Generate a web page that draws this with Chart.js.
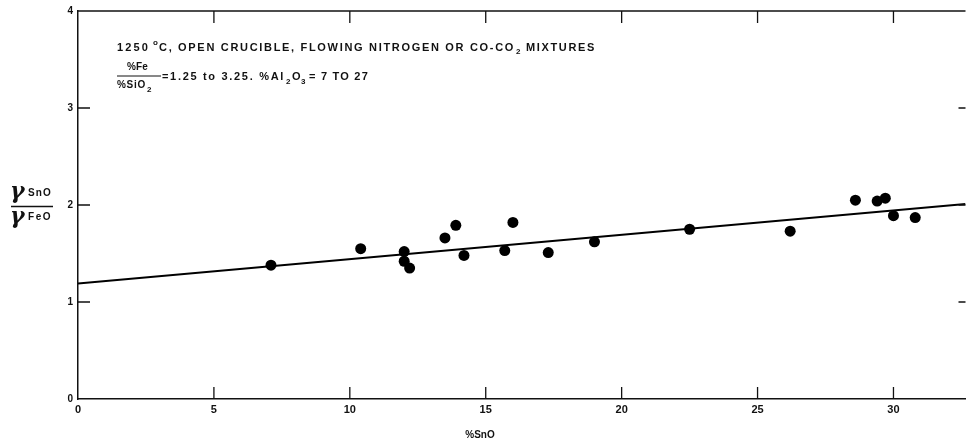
<!DOCTYPE html>
<html>
<head>
<meta charset="utf-8">
<script src="https://cdn.jsdelivr.net/npm/chart.js@4.4.1/dist/chart.umd.min.js"></script>
<style>
  html, body { margin: 0; padding: 0; background: #fff; overflow: hidden; }
</style>
</head>
<body>
<canvas id="sno-chart" width="967" height="443"></canvas>
<script>
// data
var snoPct = [7.1, 10.4, 12.0, 12.0, 12.2, 13.5, 13.9, 14.2, 15.7, 16.0, 17.3, 19.0, 22.5, 26.2, 28.6, 29.4, 29.7, 30.0, 30.8];
var gammaRatio = [1.38, 1.55, 1.52, 1.42, 1.35, 1.66, 1.79, 1.48, 1.53, 1.82, 1.51, 1.62, 1.75, 1.73, 2.05, 2.04, 2.07, 1.89, 1.87];
var fitX = [0, 32.65];
var fitY = [1.19, 2.01];
var xTicks = [0, 5, 10, 15, 20, 25, 30];
var yTicks = [0, 1, 2, 3, 4];

var ink = '#111';
var sans = '"Liberation Sans", Arial, sans-serif';

function toPts(xs, ys) {
  return xs.map(function (x, i) { return { x: x, y: ys[i] }; });
}

// text stretched to a given overall width (the original lettering is spaced out)
function spacedText(ctx, txt, x, y, width) {
  ctx.letterSpacing = '0px';
  var w = ctx.measureText(txt).width;
  var sp = (width - w) / txt.length;
  ctx.letterSpacing = sp + 'px';
  ctx.fillText(txt, x, y);
  var out = x + ctx.measureText(txt).width;
  ctx.letterSpacing = '0px';
  return out;
}

// draw a glyph with its ink box top-left at (left, top)
function glyphAt(ctx, ch, left, top) {
  var m = ctx.measureText(ch);
  ctx.fillText(ch, left + m.actualBoundingBoxLeft, top + m.actualBoundingBoxAscent);
}

var frameAndText = {
  id: 'frameAndText',
  afterDraw: function (chart) {
    var ctx = chart.ctx;
    var a = chart.chartArea;
    var xs = chart.scales.x, ys = chart.scales.y;
    ctx.save();
    ctx.strokeStyle = ink;
    ctx.lineWidth = 1.5;
    // top frame line
    ctx.beginPath();
    ctx.moveTo(a.left, a.top);
    ctx.lineTo(a.right, a.top);
    ctx.stroke();
    // inward ticks
    ctx.lineWidth = 1.3;
    xTicks.forEach(function (v) {
      if (v === 0) return;
      var px = xs.getPixelForValue(v);
      ctx.beginPath();
      ctx.moveTo(px, a.bottom); ctx.lineTo(px, a.bottom - 12);
      ctx.moveTo(px, a.top); ctx.lineTo(px, a.top + 12);
      ctx.stroke();
    });
    yTicks.forEach(function (v) {
      if (v === 0 || v === 4) return;
      var py = ys.getPixelForValue(v);
      ctx.beginPath();
      ctx.moveTo(a.left, py); ctx.lineTo(a.left + 12, py);
      ctx.moveTo(a.right, py); ctx.lineTo(a.right - 7, py);
      ctx.stroke();
    });

    ctx.fillStyle = ink;
    ctx.textBaseline = 'alphabetic';
    ctx.textAlign = 'left';
    var big = 'bold 11px ' + sans, mid = 'bold 10px ' + sans, sub = 'bold 8px ' + sans;
    // condition note
    ctx.font = big;
    var x = spacedText(ctx, '1250 ', 117, 51, 38);
    ctx.font = sub;
    ctx.fillText('o', x - 2, 45);
    ctx.font = big;
    x = spacedText(ctx, 'C, OPEN CRUCIBLE, FLOWING NITROGEN OR CO-CO', x + 4, 51, 356);
    ctx.font = sub;
    ctx.fillText('2', x + 1, 54);
    ctx.font = big;
    spacedText(ctx, 'MIXTURES', x + 11, 51, 70);

    // %Fe / %SiO2 fraction
    ctx.font = mid;
    spacedText(ctx, '%Fe', 127, 70, 21);
    ctx.lineWidth = 1;
    ctx.beginPath(); ctx.moveTo(117, 76); ctx.lineTo(161, 76); ctx.stroke();
    x = spacedText(ctx, '%SiO', 117, 88, 29);
    ctx.font = sub;
    ctx.fillText('2', x + 1, 92);
    ctx.font = big;
    x = spacedText(ctx, '=1.25 to 3.25. %Al', 162, 80, 123);
    ctx.font = sub;
    ctx.fillText('2', x + 1, 84);
    ctx.font = big;
    ctx.fillText('O', x + 7, 80);
    ctx.font = sub;
    ctx.fillText('3', x + 16, 84);
    ctx.font = big;
    spacedText(ctx, '= 7 TO 27', x + 24, 80, 60);

    // y axis label: gamma SnO / gamma FeO
    ctx.font = 'bold italic 22px "DejaVu Serif", serif';
    glyphAt(ctx, '\u03B3', 11, 186);
    glyphAt(ctx, '\u03B3', 11, 211);
    ctx.font = mid;
    spacedText(ctx, 'SnO', 28, 196, 24);
    spacedText(ctx, 'FeO', 28, 220, 24);
    ctx.lineWidth = 1.5;
    ctx.beginPath(); ctx.moveTo(11, 206.5); ctx.lineTo(53, 206.5); ctx.stroke();

    // x axis label
    ctx.textAlign = 'center';
    ctx.font = mid;
    ctx.fillText('%SnO', 480, 438);
    ctx.restore();
  }
};

new Chart(document.getElementById('sno-chart'), {
  type: 'scatter',
  data: {
    datasets: [{
      label: 'measured',
      data: toPts(snoPct, gammaRatio),
      pointRadius: 5.5,
      pointHoverRadius: 5.5,
      pointBackgroundColor: '#000',
      pointBorderWidth: 0,
      order: 1
    }, {
      label: 'fit',
      type: 'line',
      data: toPts(fitX, fitY),
      borderColor: '#000',
      borderWidth: 2,
      pointRadius: 0,
      fill: false,
      order: 2
    }]
  },
  options: {
    responsive: false,
    animation: false,
    layout: { autoPadding: false, padding: { top: 11, right: 1.5, left: 0, bottom: 0 } },
    plugins: {
      legend: { display: false },
      tooltip: { enabled: false }
    },
    scales: {
      x: {
        type: 'linear',
        min: 0,
        max: 32.65,
        afterFit: function (s) { s.height = 44; s.paddingRight = 0; s.paddingLeft = 0; },
        afterBuildTicks: function (s) { s.ticks = xTicks.map(function (v) { return { value: v }; }); },
        grid: { display: false, drawTicks: false },
        border: { display: true, color: ink, width: 1.5 },
        ticks: {
          padding: 4,
          color: ink,
          maxRotation: 0,
          font: { size: 11, weight: 'bold', family: sans }
        }
      },
      y: {
        min: 0,
        max: 4,
        afterFit: function (s) { s.width = 78; },
        afterBuildTicks: function (s) { s.ticks = yTicks.map(function (v) { return { value: v }; }); },
        grid: { display: false, drawTicks: false },
        border: { display: true, color: ink, width: 1.5 },
        ticks: {
          padding: 5,
          color: ink,
          font: { size: 10, weight: 'bold', family: sans }
        }
      }
    }
  },
  plugins: [frameAndText]
});
</script>
</body>
</html>
